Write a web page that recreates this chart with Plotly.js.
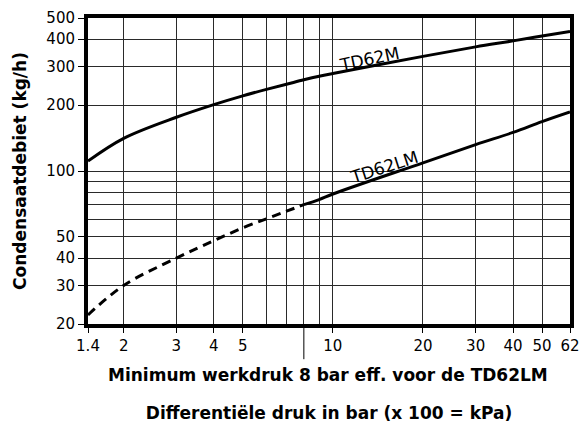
<!DOCTYPE html>
<html>
<head>
<meta charset="utf-8">
<script src="https://cdn.plot.ly/plotly-3.0.1.min.js"></script>
<style>
  html, body { margin: 0; padding: 0; background: #fff; }
  #chart { width: 583px; height: 423px; }
</style>
</head>
<body>
<div id="chart"></div>
<script>
// ---- Data ----
// TD62M (solid curve)
const td62mX = [1.52, 2, 3, 4, 5, 6, 7, 8, 9, 10, 20, 30, 40, 50, 62];
const td62mY = [111, 141, 176, 201, 220.5, 236, 249, 261, 271, 279, 334, 369, 393, 414, 434];

// TD62LM below minimum working pressure (dashed part)
const td62lmLowX = [1.52, 2, 3, 4, 5, 6, 7, 8];
const td62lmLowY = [22, 30, 40, 48, 55, 60.5, 65.5, 70.2];

// TD62LM above minimum working pressure (solid part)
const td62lmX = [8, 9, 10, 20, 30, 40, 50, 62];
const td62lmY = [70.2, 74, 78.5, 109, 132, 150, 168, 186];

// Minimum working pressure for TD62LM (bar)
const minWorkPressure = 8;

// Axis ticks (the chart's left edge is printed as "1.4")
const xMin = 1.52, xMax = 62;
const xTickVals = [1.52, 2, 3, 4, 5, 10, 20, 30, 40, 50, 62];
const xTickText = ['1.4', '2', '3', '4', '5', '10', '20', '30', '40', '50', '62'];
const xMinorVals = [6, 7, 8, 9];

const yMin = 20, yMax = 500;
const yTickVals = [20, 30, 40, 50, 100, 200, 300, 400, 500];
const yTickText = ['20', '30', '40', '50', '100', '200', '300', '400', '500'];
const yMinorVals = [60, 70, 80, 90];

const FONT = 'DejaVu Sans, Arial, sans-serif';
const GRID = '#2a2a2a';

const traces = [
  { x: td62mX, y: td62mY, mode: 'lines', name: 'TD62M',
    line: { color: '#000', width: 3, shape: 'spline', smoothing: 1 } },
  { x: td62lmLowX, y: td62lmLowY, mode: 'lines', name: 'TD62LM (< 8 bar)',
    line: { color: '#000', width: 3, shape: 'spline', smoothing: 1, dash: '9px,6px' } },
  { x: td62lmX, y: td62lmY, mode: 'lines', name: 'TD62LM',
    line: { color: '#000', width: 3, shape: 'spline', smoothing: 1 } }
];

const layout = {
  width: 583, height: 423,
  margin: { l: 88, r: 13, t: 18, b: 99, pad: 0 },
  paper_bgcolor: '#fff', plot_bgcolor: '#fff',
  showlegend: false,
  font: { family: FONT, color: '#000', size: 15 },
  xaxis: {
    type: 'log',
    range: [Math.log10(xMin), Math.log10(xMax)],
    tickmode: 'array', tickvals: xTickVals, ticktext: xTickText,
    ticks: 'outside', ticklen: 5, tickwidth: 1, tickcolor: '#000',
    showgrid: true, gridcolor: GRID, gridwidth: 1,
    minor: { tickmode: 'array', tickvals: xMinorVals, showgrid: true,
             gridcolor: GRID, gridwidth: 1, ticks: '' },
    showline: true, linecolor: '#000', linewidth: 4, mirror: true,
    zeroline: false,
    tickfont: { family: FONT, size: 15, color: '#000' },
    title: { text: 'Differentiële druk in bar (x 100 = kPa)',
             font: { family: FONT, size: 17, color: '#000', weight: 'bold' },
             standoff: 54 }
  },
  yaxis: {
    type: 'log',
    range: [Math.log10(yMin), Math.log10(yMax)],
    tickmode: 'array', tickvals: yTickVals, ticktext: yTickText,
    ticks: 'outside', ticklen: 6, tickwidth: 1, tickcolor: '#000',
    showgrid: true, gridcolor: GRID, gridwidth: 1,
    minor: { tickmode: 'array', tickvals: yMinorVals, showgrid: true,
             gridcolor: GRID, gridwidth: 1, ticks: '' },
    showline: true, linecolor: '#000', linewidth: 4, mirror: true,
    zeroline: false,
    tickfont: { family: FONT, size: 15, color: '#000' },
    title: { text: 'Condensaatdebiet (kg/h)',
             font: { family: FONT, size: 17, color: '#000', weight: 'bold' },
             standoff: 16 }
  },
  shapes: [
    { type: 'line', xref: 'x', yref: 'paper',
      x0: minWorkPressure, x1: minWorkPressure, y0: 0, y1: -0.115,
      line: { color: '#000', width: 1 } }
  ],
  annotations: [
    { text: 'TD62M', xref: 'paper', yref: 'paper', x: 0.583, y: 0.865,
      xanchor: 'center', yanchor: 'middle',
      showarrow: false, textangle: -12,
      font: { family: FONT, size: 17, color: '#000' } },
    { text: 'TD62LM', xref: 'paper', yref: 'paper', x: 0.615, y: 0.513,
      xanchor: 'center', yanchor: 'middle',
      showarrow: false, textangle: -18,
      font: { family: FONT, size: 17, color: '#000' } },
    { text: 'Minimum werkdruk 8 bar eff. voor de TD62LM',
      xref: 'paper', yref: 'paper', x: 0.498, y: -0.167,
      xanchor: 'center', yanchor: 'middle', showarrow: false,
      font: { family: FONT, size: 17, color: '#000', weight: 'bold' } }
  ]
};

Plotly.newPlot('chart', traces, layout, { displayModeBar: false, staticPlot: true });
</script>
</body>
</html>
